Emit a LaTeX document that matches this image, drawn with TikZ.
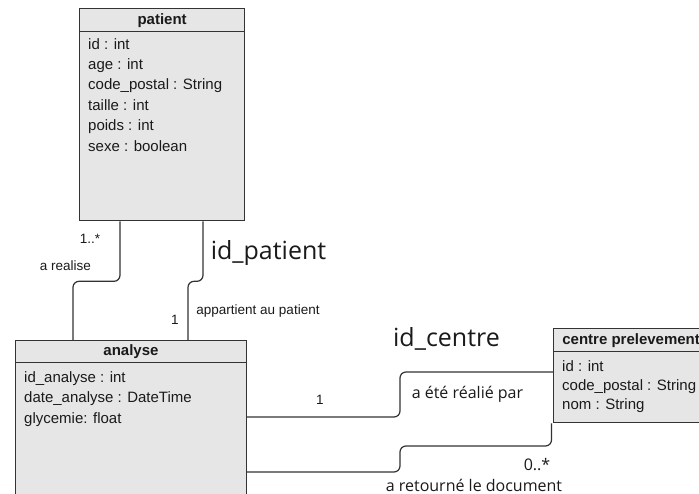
\documentclass[tikz,border=0pt]{standalone}
\usepackage{fontspec}
\setmainfont{Liberation Sans}
\newfontfamily\opensans{Open Sans}
\definecolor{boxgrey}{HTML}{E6E6E6}
\definecolor{edgegrey}{HTML}{333333}
\definecolor{inkgrey}{HTML}{1A1A1A}
\usetikzlibrary{positioning}
\tikzset{
  classbox/.style={draw=edgegrey, fill=boxgrey, line width=1.3pt, anchor=north west, inner sep=0pt},
  classhead/.style={classbox, text=inkgrey, font=\fontsize{15}{18}\selectfont\bfseries},
  attrs/.style={anchor=north west, align=left, inner sep=0pt, text=inkgrey, font=\fontsize{15}{20.4}\selectfont},
  assoc/.style={draw=edgegrey, line width=1.2pt, rounded corners=6pt},
  rolelbl/.style={text=inkgrey, inner sep=0pt, font=\fontsize{13.5}{16}\selectfont},
  keylbl/.style={text=inkgrey, inner sep=0pt, font=\opensans\fontsize{25}{30}\selectfont},
  verblbl/.style={text=inkgrey, inner sep=0pt, font=\opensans\fontsize{16}{18}\selectfont}
}

\begin{document}
\begin{tikzpicture}[x=1pt, y=-1pt]
  \useasboundingbox (0,0) rectangle (699,494);
  \clip (0,0) rectangle (699,494);
  \fill[white] (0,0) rectangle (699,494);

  % patient
  \node[classbox, minimum width=165pt, minimum height=212pt] (patient) at (79,8) {};
  \node[classhead, minimum width=165pt, minimum height=23pt] (patient-head) at (patient.north west) {patient};
  \node[attrs] (patient-attrs) at (88,38) {id : int\\age : int\\code\_postal : String\\taille : int\\poids : int\\sexe : boolean};

  % analyse
  \node[classbox, minimum width=230.7pt, minimum height=190pt] (analyse) at (15,340) {};
  \node[classhead, minimum width=230.7pt, minimum height=22pt] (analyse-head) at (analyse.north west) {analyse};
  \node[attrs] (analyse-attrs) at (24,371.5) {id\_analyse : int\\date\_analyse : DateTime\\glycemie: float};

  % centre prelevement (runs off the right edge)
  \node[classbox, minimum width=155pt, minimum height=94pt] (centre) at (553,328) {};
  \node[classhead, minimum width=155pt, minimum height=23pt] (centre-head) at (centre.north west) {centre prelevement};
  \node[attrs, font=\fontsize{15}{19.2}\selectfont] (centre-attrs) at (562,360) {id : int\\code\_postal : String\\nom : String};

  % associations
  \draw[assoc] ([xshift=41pt]patient.south west) -- ++(0,60) -| ([xshift=58pt]analyse.north west);
  \draw[assoc] ([xshift=124pt]patient.south west) -- ++(0,60) -| ([xshift=173pt]analyse.north west);
  \draw[assoc] ([yshift=-77pt]analyse.north east) -- ++(153,0) |- ([yshift=-44pt]centre.north west);
  \draw[assoc] ([yshift=-132pt]analyse.north east) -| ++(153,-26) -| ([xshift=-1.5pt]centre.south west);

  % labels
  \node[rolelbl] (mult-realise) at (90,239) {1..*};
  \node[rolelbl] (lbl-realise) at (65.5,266) {a realise};
  \node[keylbl] (key-patient) at (268.5,253) {id\_patient};
  \node[rolelbl] (lbl-appartient) at (258,311) {appartient au patient};
  \node[rolelbl] (mult-analyse) at (175,320) {1};
  \node[rolelbl] (mult-centre) at (320,400) {1};
  \node[verblbl] (lbl-realie) at (467.5,394) {a été réalié par};
  \node[keylbl] (key-centre) at (446.5,339) {id\_centre};
  \node[verblbl] (mult-retour) at (537,465) {0..*};
  \node[verblbl] (lbl-retour) at (474,485) {a retourné le document};
\end{tikzpicture}
\end{document}
